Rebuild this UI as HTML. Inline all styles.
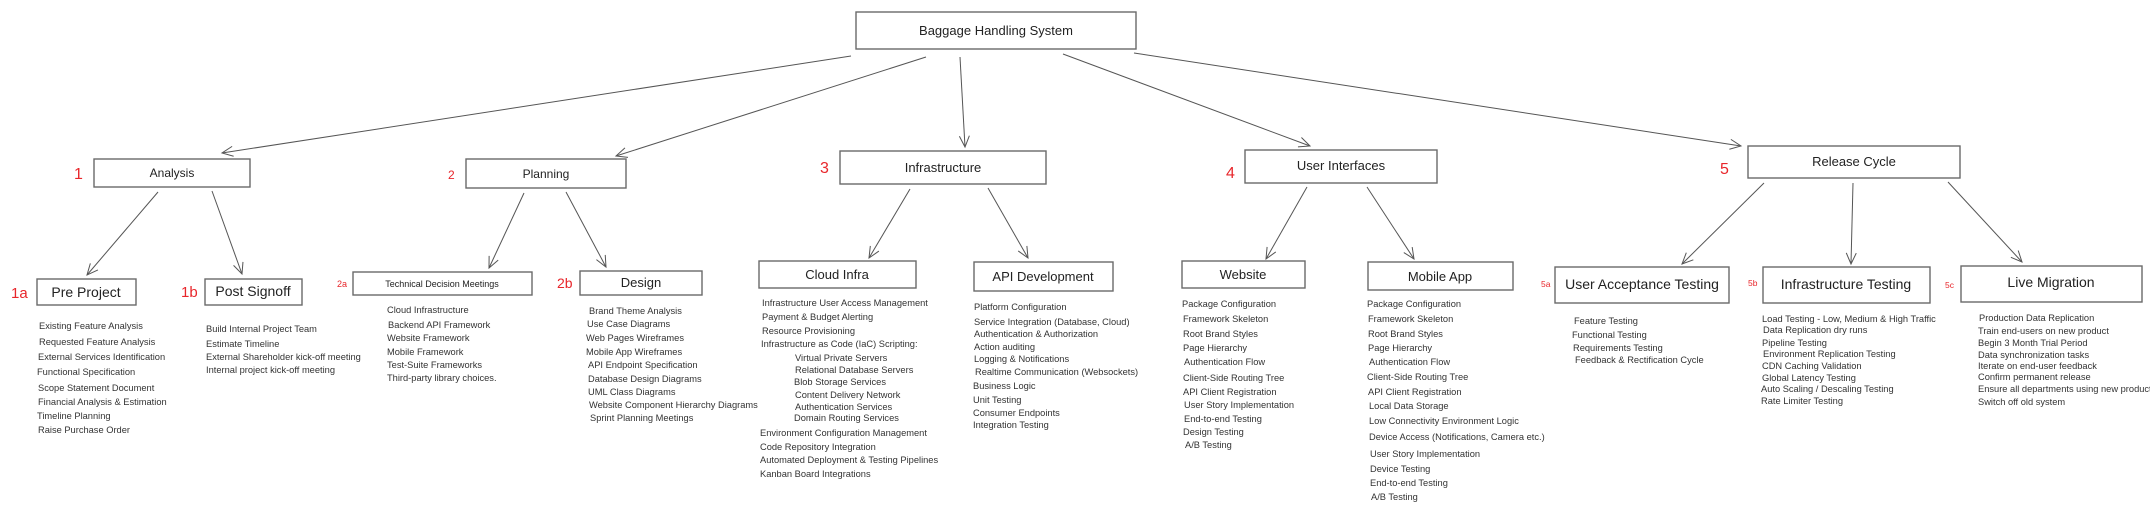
<!DOCTYPE html>
<html><head><meta charset="utf-8"><style>
body{margin:0;background:#fff;}
svg{display:block}
.b{fill:#fff;stroke:#6a6a6a;stroke-width:1.4}
.t{font-family:"Liberation Sans",sans-serif;fill:#222;text-anchor:middle}
.l{font-family:"Liberation Sans",sans-serif;fill:#333;font-size:9.3px}
.r{font-family:"Liberation Sans",sans-serif;fill:#e8262b}
.a{stroke:#555;stroke-width:1;fill:none}
</style></head><body>
<svg width="2150" height="507" viewBox="0 0 2150 507">
<defs><marker id="m" markerWidth="14" markerHeight="14" refX="12" refY="6" orient="auto" markerUnits="userSpaceOnUse"><path d="M1,1 L12,6 L1,11" fill="none" stroke="#555" stroke-width="1"/></marker></defs>
<g class="a">
<line x1="851" y1="56" x2="222" y2="153" marker-end="url(#m)"/>
<line x1="926" y1="57" x2="616" y2="156" marker-end="url(#m)"/>
<line x1="960" y1="57" x2="965" y2="147" marker-end="url(#m)"/>
<line x1="1063" y1="54" x2="1310" y2="146" marker-end="url(#m)"/>
<line x1="1134" y1="53" x2="1741" y2="146" marker-end="url(#m)"/>
<line x1="158" y1="192" x2="87" y2="275" marker-end="url(#m)"/>
<line x1="212" y1="191" x2="242" y2="274" marker-end="url(#m)"/>
<line x1="524" y1="193" x2="489" y2="268" marker-end="url(#m)"/>
<line x1="566" y1="192" x2="606" y2="267" marker-end="url(#m)"/>
<line x1="910" y1="189" x2="869" y2="258" marker-end="url(#m)"/>
<line x1="988" y1="188" x2="1028" y2="258" marker-end="url(#m)"/>
<line x1="1307" y1="187" x2="1266" y2="259" marker-end="url(#m)"/>
<line x1="1367" y1="187" x2="1414" y2="259" marker-end="url(#m)"/>
<line x1="1764" y1="183" x2="1682" y2="264" marker-end="url(#m)"/>
<line x1="1853" y1="183" x2="1851" y2="264" marker-end="url(#m)"/>
<line x1="1948" y1="182" x2="2022" y2="262" marker-end="url(#m)"/>
</g>
<rect class="b" x="856" y="12" width="280" height="37"/><text class="t" x="996" y="35" font-size="13">Baggage Handling System</text>
<rect class="b" x="94" y="159" width="156" height="28"/><text class="t" x="172" y="177" font-size="12">Analysis</text>
<rect class="b" x="466" y="159" width="160" height="29"/><text class="t" x="546" y="178" font-size="12">Planning</text>
<rect class="b" x="840" y="151" width="206" height="33"/><text class="t" x="943" y="172" font-size="13">Infrastructure</text>
<rect class="b" x="1245" y="150" width="192" height="33"/><text class="t" x="1341" y="170" font-size="13">User Interfaces</text>
<rect class="b" x="1748" y="146" width="212" height="32"/><text class="t" x="1854" y="166" font-size="13">Release Cycle</text>
<rect class="b" x="37" y="279" width="99" height="26"/><text class="t" x="86" y="297" font-size="14">Pre Project</text>
<rect class="b" x="205" y="279" width="97" height="26"/><text class="t" x="253" y="296" font-size="14">Post Signoff</text>
<rect class="b" x="353" y="272" width="179" height="23"/><text class="t" x="442" y="287" font-size="9">Technical Decision Meetings</text>
<rect class="b" x="580" y="271" width="122" height="24"/><text class="t" x="641" y="287" font-size="13">Design</text>
<rect class="b" x="759" y="261" width="157" height="27"/><text class="t" x="837" y="279" font-size="13">Cloud Infra</text>
<rect class="b" x="974" y="262" width="139" height="29"/><text class="t" x="1043" y="281" font-size="13">API Development</text>
<rect class="b" x="1182" y="261" width="123" height="27"/><text class="t" x="1243" y="279" font-size="13">Website</text>
<rect class="b" x="1368" y="262" width="145" height="28"/><text class="t" x="1440" y="281" font-size="13">Mobile App</text>
<rect class="b" x="1555" y="267" width="174" height="36"/><text class="t" x="1642" y="289" font-size="14">User Acceptance Testing</text>
<rect class="b" x="1763" y="267" width="167" height="36"/><text class="t" x="1846" y="289" font-size="14">Infrastructure Testing</text>
<rect class="b" x="1961" y="266" width="181" height="36"/><text class="t" x="2051" y="287" font-size="14">Live Migration</text>
<text class="r" x="74" y="179" font-size="16">1</text>
<text class="r" x="448" y="179" font-size="12">2</text>
<text class="r" x="820" y="173" font-size="16">3</text>
<text class="r" x="1226" y="178" font-size="16">4</text>
<text class="r" x="1720" y="174" font-size="16">5</text>
<text class="r" x="11" y="298" font-size="15">1a</text>
<text class="r" x="181" y="297" font-size="15">1b</text>
<text class="r" x="337" y="287" font-size="9">2a</text>
<text class="r" x="557" y="288" font-size="14">2b</text>
<text class="r" x="1541" y="287" font-size="8.5">5a</text>
<text class="r" x="1748" y="286" font-size="8.5">5b</text>
<text class="r" x="1945" y="288" font-size="8.5">5c</text>
<g class="l">
<text x="39" y="329">Existing Feature Analysis</text>
<text x="39" y="345">Requested Feature Analysis</text>
<text x="38" y="360">External Services Identification</text>
<text x="37" y="375">Functional Specification</text>
<text x="38" y="391">Scope Statement Document</text>
<text x="38" y="405">Financial Analysis &amp; Estimation</text>
<text x="37" y="419">Timeline Planning</text>
<text x="38" y="433">Raise Purchase Order</text>

<text x="206" y="332">Build Internal Project Team</text>
<text x="206" y="347">Estimate Timeline</text>
<text x="206" y="360">External Shareholder kick-off meeting</text>
<text x="206" y="373">Internal project kick-off meeting</text>

<text x="387" y="313">Cloud Infrastructure</text>
<text x="388" y="328">Backend API Framework</text>
<text x="387" y="341">Website Framework</text>
<text x="387" y="355">Mobile Framework</text>
<text x="387" y="368">Test-Suite Frameworks</text>
<text x="387" y="381">Third-party library choices.</text>

<text x="589" y="314">Brand Theme Analysis</text>
<text x="587" y="327">Use Case Diagrams</text>
<text x="586" y="341">Web Pages Wireframes</text>
<text x="586" y="355">Mobile App Wireframes</text>
<text x="588" y="368">API Endpoint Specification</text>
<text x="588" y="382">Database Design Diagrams</text>
<text x="588" y="395">UML Class Diagrams</text>
<text x="589" y="408">Website Component Hierarchy Diagrams</text>
<text x="590" y="421">Sprint Planning Meetings</text>

<text x="762" y="306">Infrastructure User Access Management</text>
<text x="762" y="320">Payment &amp; Budget Alerting</text>
<text x="762" y="334">Resource Provisioning</text>
<text x="761" y="347">Infrastructure as Code (IaC) Scripting:</text>
<text x="795" y="361">Virtual Private Servers</text>
<text x="795" y="373">Relational Database Servers</text>
<text x="794" y="385">Blob Storage Services</text>
<text x="795" y="398">Content Delivery Network</text>
<text x="795" y="410">Authentication Services</text>
<text x="794" y="421">Domain Routing Services</text>
<text x="760" y="436">Environment Configuration Management</text>
<text x="760" y="450">Code Repository Integration</text>
<text x="760" y="463">Automated Deployment &amp; Testing Pipelines</text>
<text x="760" y="477">Kanban Board Integrations</text>

<text x="974" y="310">Platform Configuration</text>
<text x="974" y="325">Service Integration (Database, Cloud)</text>
<text x="974" y="337">Authentication &amp; Authorization</text>
<text x="974" y="350">Action auditing</text>
<text x="974" y="362">Logging &amp; Notifications</text>
<text x="975" y="375">Realtime Communication (Websockets)</text>
<text x="973" y="389">Business Logic</text>
<text x="973" y="403">Unit Testing</text>
<text x="973" y="416">Consumer Endpoints</text>
<text x="973" y="428">Integration Testing</text>

<text x="1182" y="307">Package Configuration</text>
<text x="1183" y="322">Framework Skeleton</text>
<text x="1183" y="337">Root Brand Styles</text>
<text x="1183" y="351">Page Hierarchy</text>
<text x="1184" y="365">Authentication Flow</text>
<text x="1183" y="381">Client-Side Routing Tree</text>
<text x="1183" y="395">API Client Registration</text>
<text x="1184" y="408">User Story Implementation</text>
<text x="1184" y="422">End-to-end Testing</text>
<text x="1183" y="435">Design Testing</text>
<text x="1185" y="448">A/B Testing</text>

<text x="1367" y="307">Package Configuration</text>
<text x="1368" y="322">Framework Skeleton</text>
<text x="1368" y="337">Root Brand Styles</text>
<text x="1368" y="351">Page Hierarchy</text>
<text x="1369" y="365">Authentication Flow</text>
<text x="1367" y="380">Client-Side Routing Tree</text>
<text x="1368" y="395">API Client Registration</text>
<text x="1369" y="409">Local Data Storage</text>
<text x="1369" y="424">Low Connectivity Environment Logic</text>
<text x="1369" y="440">Device Access (Notifications, Camera etc.)</text>
<text x="1370" y="457">User Story Implementation</text>
<text x="1370" y="472">Device Testing</text>
<text x="1370" y="486">End-to-end Testing</text>
<text x="1371" y="500">A/B Testing</text>

<text x="1574" y="324">Feature Testing</text>
<text x="1572" y="338">Functional Testing</text>
<text x="1573" y="351">Requirements Testing</text>
<text x="1575" y="363">Feedback &amp; Rectification Cycle</text>

<text x="1762" y="322">Load Testing - Low, Medium &amp; High Traffic</text>
<text x="1763" y="333">Data Replication dry runs</text>
<text x="1762" y="346">Pipeline Testing</text>
<text x="1763" y="357">Environment Replication Testing</text>
<text x="1762" y="369">CDN Caching Validation</text>
<text x="1762" y="381">Global Latency Testing</text>
<text x="1761" y="392">Auto Scaling / Descaling Testing</text>
<text x="1761" y="404">Rate Limiter Testing</text>

<text x="1979" y="321">Production Data Replication</text>
<text x="1978" y="334">Train end-users on new product</text>
<text x="1978" y="346">Begin 3 Month Trial Period</text>
<text x="1978" y="358">Data synchronization tasks</text>
<text x="1978" y="369">Iterate on end-user feedback</text>
<text x="1978" y="380">Confirm permanent release</text>
<text x="1978" y="392">Ensure all departments using new product</text>
<text x="1978" y="405">Switch off old system</text>
</g>
</svg>
</body></html>
